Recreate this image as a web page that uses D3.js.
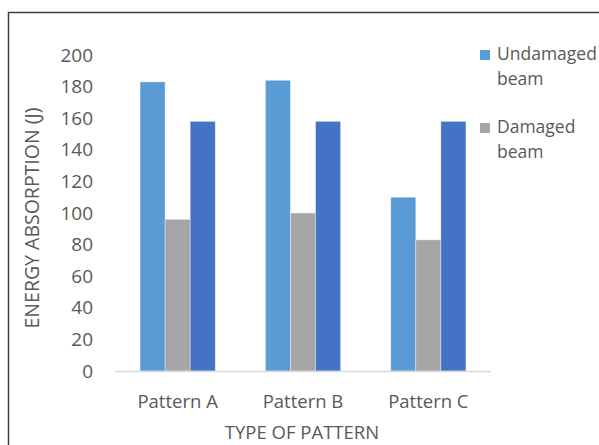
<!DOCTYPE html>
<html>
<head>
<meta charset="utf-8">
<script src="https://cdn.jsdelivr.net/npm/d3@7"></script>
<style>
  html, body { margin: 0; padding: 0; background: #fff; }
  svg { display: block; }
  text { font-family: "Open Sans", Lato, sans-serif; fill: #595959; }
</style>
</head>
<body>
<svg id="chart" width="599" height="445"></svg>
<script>
// Energy absorption per pattern type
const categories = ["Pattern A", "Pattern B", "Pattern C"];
const seriesNames = ["Undamaged beam", "Damaged beam", "Strengthened beam"];
const undamaged = [183, 184, 110];
const damaged = [96, 100, 83];
const strengthened = [158, 158, 158];
const yTicks = [0, 20, 40, 60, 80, 100, 120, 140, 160, 180, 200];
const legendEntries = [
  { lines: ["Undamaged", "beam"], series: 0 },
  { lines: ["Damaged", "beam"], series: 1 }
];

const colors = ["#5B9BD5", "#A5A5A5", "#4472C4"];
const series = [undamaged, damaged, strengthened];

const svg = d3.select("#chart");

// outer chart frame
svg.append("rect")
  .attr("x", 8.5).attr("y", 12.5)
  .attr("width", 640).attr("height", 480)
  .attr("fill", "none")
  .attr("stroke", "#404040")
  .attr("stroke-width", 1.5);

const x0 = d3.scaleBand().domain(categories).range([115, 491])
  .paddingInner(0.4).paddingOuter(0.2);
const x1 = d3.scaleBand().domain(d3.range(series.length)).range([0, x0.bandwidth()]);
const y = d3.scaleLinear().domain([0, 200]).range([371, 55]);

// bars
const groups = svg.append("g").selectAll("g")
  .data(categories)
  .join("g")
  .attr("transform", d => `translate(${x0(d)},0)`);

groups.selectAll("rect")
  .data((d, i) => series.map((s, k) => ({ k, v: s[i] })))
  .join("rect")
  .attr("x", d => x1(d.k))
  .attr("width", x1.bandwidth())
  .attr("y", d => y(d.v))
  .attr("height", d => y(0) - y(d.v))
  .attr("fill", d => colors[d.k])
  .attr("stroke", "#ffffff")
  .attr("stroke-opacity", 0.5)
  .attr("stroke-width", 0.75);

// category axis line
svg.append("line")
  .attr("x1", 115).attr("x2", 491)
  .attr("y1", y(0) + 0.5).attr("y2", y(0) + 0.5)
  .attr("stroke", "#d9d9d9")
  .attr("stroke-width", 1.5);

// y tick labels
svg.append("g").selectAll("text")
  .data(yTicks)
  .join("text")
  .attr("x", 93)
  .attr("y", d => y(d) + 6.5)
  .attr("text-anchor", "end")
  .attr("font-size", 19)
  .text(d => d);

// x category labels
svg.append("g").selectAll("text")
  .data(categories)
  .join("text")
  .attr("x", d => x0(d) + x0.bandwidth() / 2)
  .attr("y", 408)
  .attr("text-anchor", "middle")
  .attr("font-size", 18.5)
  .text(d => d);

// axis titles
svg.append("text")
  .attr("x", 302).attr("y", 439)
  .attr("text-anchor", "middle")
  .attr("font-size", 18.5)
  .text("TYPE OF PATTERN");

svg.append("text")
  .attr("transform", "translate(39,218) rotate(-90)")
  .attr("text-anchor", "middle")
  .attr("font-size", 19.5)
  .text("ENERGY ABSORPTION (J)");

// legend
const legend = svg.append("g");
legendEntries.forEach((e, i) => {
  const top = i === 0 ? 50 : 123;
  legend.append("rect")
    .attr("x", 480).attr("y", top)
    .attr("width", 10).attr("height", 10)
    .attr("fill", colors[e.series]);
  e.lines.forEach((line, j) => {
    legend.append("text")
      .attr("x", 497)
      .attr("y", top + 10 + j * 24.5)
      .attr("font-size", 17.5)
      .text(line);
  });
});
</script>
</body>
</html>
